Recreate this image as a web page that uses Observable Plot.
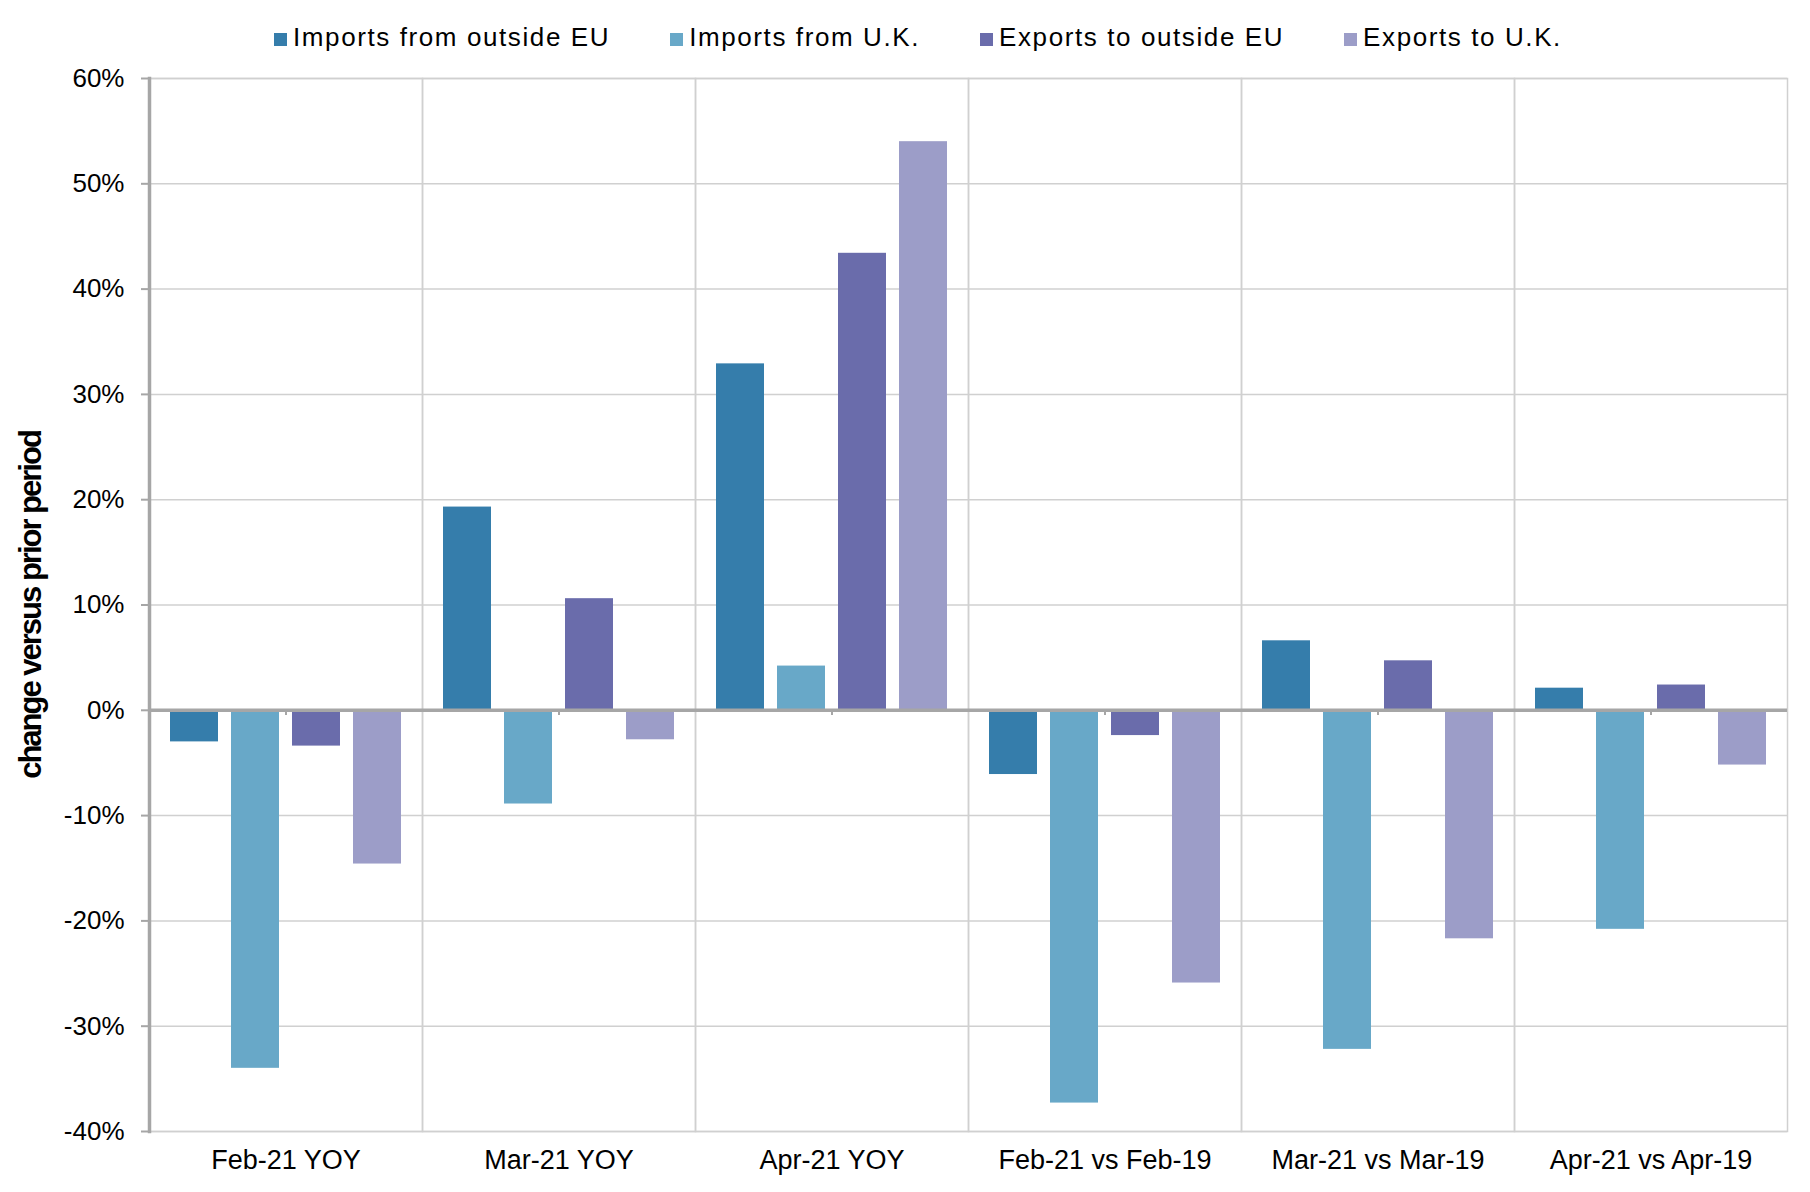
<!DOCTYPE html>
<html>
<head>
<meta charset="utf-8">
<script src="https://cdn.jsdelivr.net/npm/d3@7"></script>
<script src="https://cdn.jsdelivr.net/npm/@observablehq/plot@0.6"></script>
<style>
  html, body { margin: 0; padding: 0; background: #fff; }
  #legend { height: 60px; box-sizing: border-box; padding-top: 24px; padding-left: 274px;
    display: flex; align-items: baseline; gap: 60px;
    font-family: "Liberation Sans", Arial, sans-serif; font-size: 26px; line-height: 26px;
    letter-spacing: 1.6px; color: #000; white-space: nowrap; }
  .item { display: flex; align-items: baseline; }
  .sw { display: inline-block; width: 13px; height: 13px; margin-right: 6px; }
  g[aria-label="y-axis label"] text { font-family: "Liberation Sans", Arial, sans-serif; font-weight: bold; font-size: 31px; letter-spacing: -2px; }
</style>
</head>
<body>
<div id="legend"></div>
<div id="chart"></div>
<script>
const categories = ["Feb-21 YOY", "Mar-21 YOY", "Apr-21 YOY", "Feb-21 vs Feb-19", "Mar-21 vs Mar-19", "Apr-21 vs Apr-19"];
const series = ["Imports from outside EU", "Imports from U.K.", "Exports to outside EU", "Exports to U.K."];
const importsOutsideEU = [-3.0, 19.3, 32.9, -6.1, 6.6, 2.1];
const importsUK = [-34.0, -8.9, 4.2, -37.3, -32.2, -20.8];
const exportsOutsideEU = [-3.4, 10.6, 43.4, -2.4, 4.7, 2.4];
const exportsUK = [-14.6, -2.8, 54.0, -25.9, -21.7, -5.2];
const yTicks = [-40, -30, -20, -10, 0, 10, 20, 30, 40, 50, 60];
const colors = ["#357dab", "#68a8c8", "#6a6cab", "#9c9dc8"];

const seriesValues = [importsOutsideEU, importsUK, exportsOutsideEU, exportsUK];
const data = [];
categories.forEach((c, i) => {
  series.forEach((s, j) => data.push({category: c, series: s, value: seriesValues[j][i]}));
});

// legend
const legend = document.getElementById("legend");
series.forEach((s, j) => {
  const item = document.createElement("div");
  item.className = "item";
  const sw = document.createElement("span");
  sw.className = "sw";
  sw.style.background = colors[j];
  item.appendChild(sw);
  item.appendChild(document.createTextNode(s));
  legend.appendChild(item);
});

const chart = Plot.plot({
  width: 1810,
  height: 1132,
  marginLeft: 148,
  marginRight: 23,
  marginTop: 18,
  marginBottom: 61,
  style: {fontFamily: "'Liberation Sans', Arial, sans-serif", background: "#fff", color: "#000", overflow: "visible"},
  fx: {domain: categories, padding: 0, label: null},
  x: {domain: series, paddingInner: 0.21, paddingOuter: 0.32, axis: null},
  y: {domain: [-40, 60], label: "change versus prior period"},
  color: {domain: series, range: colors},
  marks: [
    Plot.frame({stroke: "#d0d0d0", strokeWidth: 1.5}),
    Plot.gridY(yTicks, {stroke: "#d0d0d0", strokeOpacity: 1, strokeWidth: 1.5}),
    Plot.barY(data, {fx: "category", x: "series", y: "value", fill: "series"}),
    Plot.ruleY([0], {stroke: "#a6a6a6", strokeWidth: 3.5}),
    Plot.ruleX([0], {x: null, y1: 0, y2: -0.5, stroke: "#a6a6a6", strokeWidth: 2}),
    Plot.frame({anchor: "left", facet: "super", stroke: "#a6a6a6", strokeWidth: 3.5}),
    Plot.axisY(yTicks, {
      tickSize: 8, tickPadding: 17, tickFormat: d => d + "%", fontSize: 26,
      stroke: "#a6a6a6", strokeWidth: 2,
      label: "change versus prior period", labelAnchor: "center", labelOffset: 131, labelArrow: "none"
    }),
    Plot.axisFx({anchor: "bottom", tickSize: 0, tickPadding: 18, fontSize: 27, label: null})
  ]
});
document.getElementById("chart").appendChild(chart);
</script>
</body>
</html>
